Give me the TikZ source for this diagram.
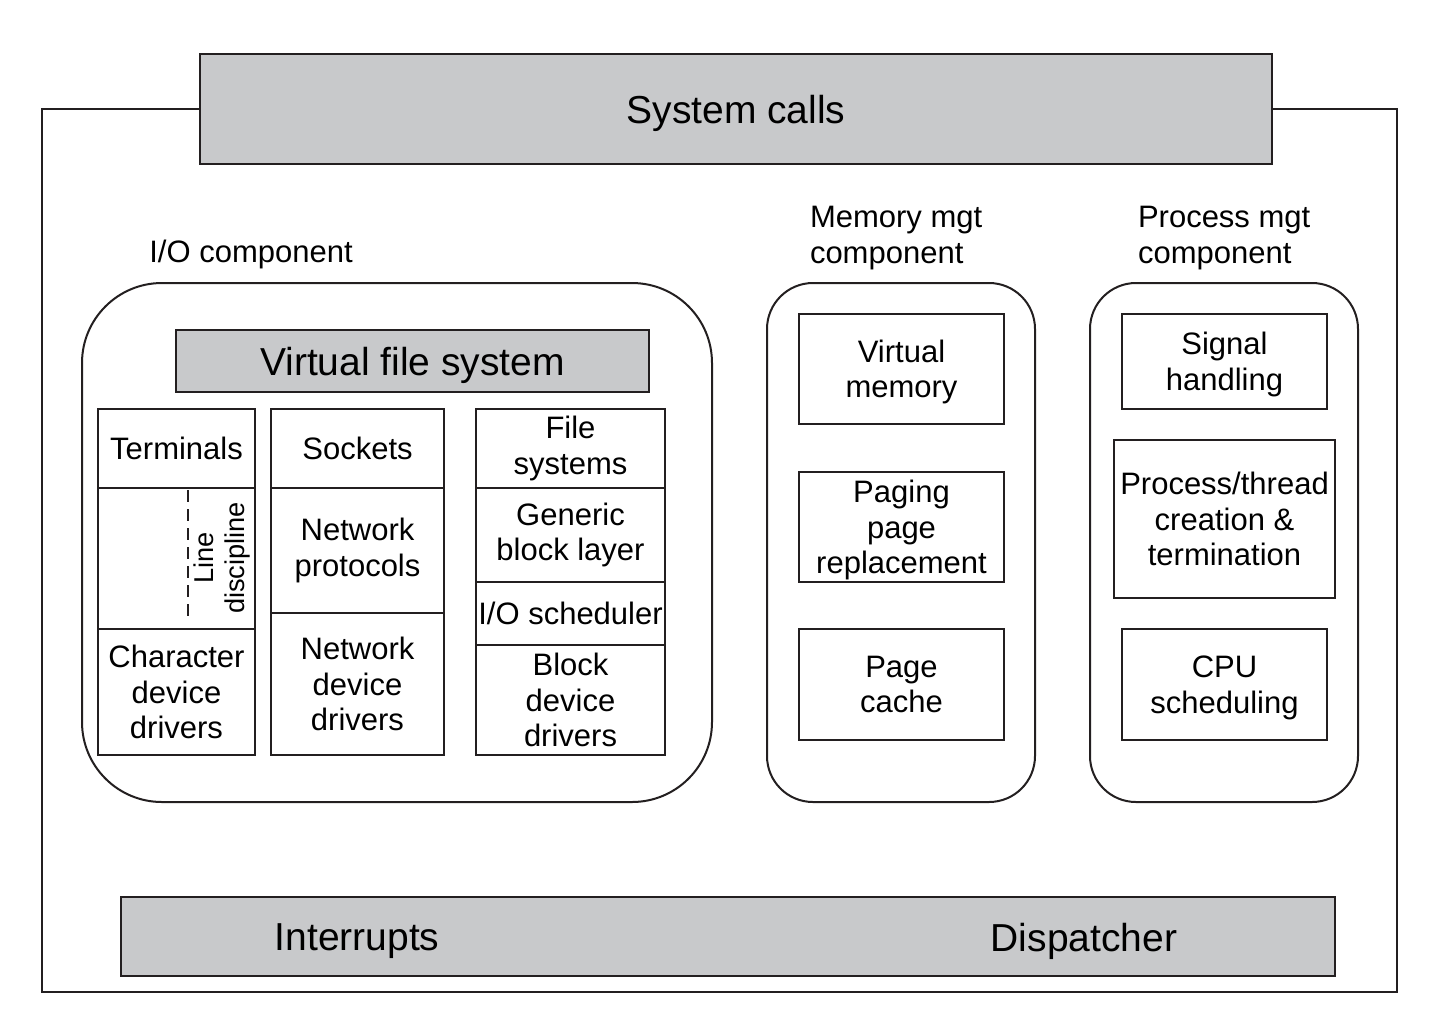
\documentclass[tikz,border=0pt]{standalone}
\usepackage{fontspec}
\setmainfont{Liberation Sans}
\definecolor{boxgray}{RGB}{200,201,203}
\definecolor{inkline}{RGB}{35,31,32}
% box macro: name, x1, y1, x2, y2, style, text
\newcommand\pxbox[7]{%
  \node[#6, minimum width={(#4-#2)*0.5pt}, minimum height={(#5-#3)*0.5pt}]
    (#1) at ({(#2+#4)/2},{(#3+#5)/2}) {#7};}
\begin{document}
\begin{tikzpicture}[x=0.5pt,y=-0.5pt,
  line width=1pt, draw=inkline,
  small/.style={font=\fontsize{15.5}{17.75}\selectfont},
  big/.style={font=\fontsize{19.5}{22}\selectfont},
  cell/.style={draw=inkline, inner sep=0pt, outer sep=0pt, align=center, small},
  lowcell/.style={cell, text depth=0pt},
  graybar/.style={draw=inkline, fill=boxgray, inner sep=0pt, outer sep=0pt, big, text depth=0pt},
  plainbox/.style={draw=inkline, inner sep=0pt, outer sep=0pt},
  bigcomp/.style={draw=inkline, rounded corners=40pt, inner sep=0pt, outer sep=0pt},
  smallcomp/.style={draw=inkline, rounded corners=23pt, inner sep=0pt, outer sep=0pt},
  label/.style={small, inner sep=0pt},
]
\useasboundingbox (0,0) rectangle (1450,1035);

% outer kernel frame
\pxbox{kernel}{42}{109}{1397}{992}{plainbox}{}

% system calls
\pxbox{syscalls}{200}{54}{1272}{164}{graybar}{System calls}

% component labels
\node[label, align=center] (iolabel) at (251,254) {I/O component};
\node[label, align=left, anchor=west] (memlabel) at (809,238) {Memory mgt\\component};
\node[label, align=left, anchor=west] (proclabel) at (1137,238) {Process mgt\\component};

% components
\pxbox{io}{82}{283}{712}{802}{bigcomp}{}
\pxbox{mem}{767}{283}{1035}{802}{smallcomp}{}
\pxbox{proc}{1090}{283}{1358}{802}{smallcomp}{}

% virtual file system
\pxbox{vfs}{176}{330}{649}{392}{graybar}{Virtual file system}

% terminals column
\pxbox{terminals}{98}{409}{255}{488}{cell}{Terminals}
\pxbox{linedisc}{98}{488}{255}{629}{cell}{}
\pxbox{chardrv}{98}{629}{255}{755}{cell}{Character\\device\\drivers}
\coordinate (ldtop) at (188,490);
\coordinate (ldbot) at (188,622);
\draw[dash pattern=on 6pt off 3.5pt] (ldtop) -- (ldbot);
\node[font=\fontsize{13.6}{15.5}\selectfont, align=center, rotate=90, inner sep=0pt] (ldtext) at (222,558) {Line\\discipline};

% sockets column
\pxbox{sockets}{271}{409}{444}{488}{cell}{Sockets}
\pxbox{netproto}{271}{488}{444}{613}{cell}{Network\\protocols}
\pxbox{netdrv}{271}{613}{444}{755}{cell}{Network\\device\\drivers}

% file systems column
\pxbox{filesys}{476}{409}{665}{488}{cell}{File\\systems}
\pxbox{genblock}{476}{488}{665}{582}{cell}{Generic\\block layer}
\pxbox{iosched}{476}{582}{665}{645}{cell}{I/O scheduler}
\pxbox{blockdrv}{476}{645}{665}{755}{cell}{Block\\device\\drivers}

% memory management
\pxbox{vmem}{799}{314}{1004}{424}{lowcell}{Virtual\\memory}
\pxbox{paging}{799}{472}{1004}{582}{lowcell}{Paging\\page\\replacement}
\pxbox{pcache}{799}{629}{1004}{740}{lowcell}{Page\\cache}

% process management
\pxbox{signal}{1122}{314}{1327}{409}{lowcell}{Signal\\handling}
\pxbox{pthread}{1114}{440}{1335}{598}{cell}{Process/thread\\creation \&\\termination}
\pxbox{cpusched}{1122}{629}{1327}{740}{lowcell}{CPU\\scheduling}

% bottom bar
\pxbox{bottombar}{121}{897}{1335}{976}{graybar}{}
\node[big, inner sep=0pt] (interrupts) at (357,941) {Interrupts};
\node[big, inner sep=0pt] (dispatcher) at (1084,941) {Dispatcher};
\end{tikzpicture}
\end{document}
